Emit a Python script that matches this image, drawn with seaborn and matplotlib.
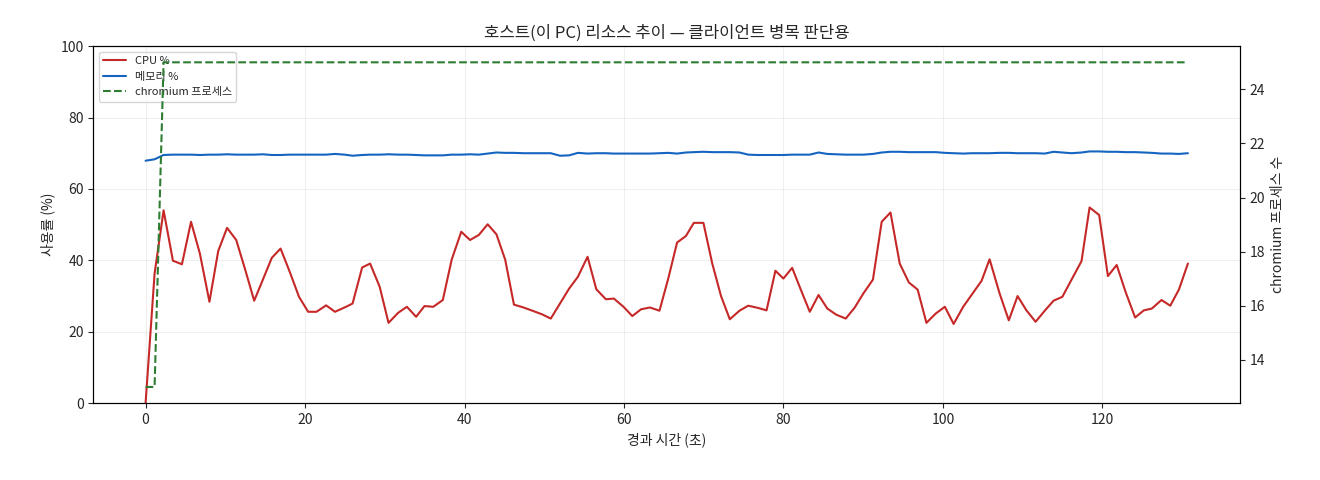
import matplotlib
matplotlib.use("Agg")
import matplotlib.pyplot as plt
import seaborn as sns
import pandas as pd

elapsed_s = [0.0, 1.13, 2.26, 3.43, 4.56, 5.70, 6.81, 8.01, 9.11, 10.22,
             11.37, 12.52, 13.62, 14.73, 15.83, 16.93, 18.13, 19.24, 20.39, 21.44,
             22.65, 23.75, 24.95, 25.96, 27.16, 28.16, 29.36, 30.47, 31.67, 32.77,
             33.93, 34.98, 36.08, 37.28, 38.39, 39.59, 40.69, 41.79, 42.90, 44.00,
             45.10, 46.20, 47.40, 48.51, 49.71, 50.82, 51.97, 53.12, 54.22, 55.43,
             56.53, 57.73, 58.73, 59.94, 61.04, 62.14, 63.25, 64.45, 65.55, 66.66,
             67.76, 68.76, 69.96, 71.07, 72.17, 73.27, 74.48, 75.58, 76.78, 77.88,
             78.99, 79.99, 81.09, 82.19, 83.30, 84.40, 85.50, 86.61, 87.81, 88.91,
             90.01, 91.22, 92.32, 93.42, 94.58, 95.73, 96.83, 97.93, 99.09, 100.24,
             101.34, 102.54, 103.65, 104.85, 105.85, 107.11, 108.26, 109.36, 110.47, 111.62,
             112.77, 113.87, 114.98, 116.13, 117.38, 118.39, 119.59, 120.69, 121.79, 122.90,
             124.10, 125.20, 126.20, 127.41, 128.51, 129.61, 130.72]

cpu_pct = [0.0, 36.3, 54.0, 39.9, 38.9, 50.8, 41.9, 28.4, 42.6, 49.1,
           45.7, 37.2, 28.7, 34.7, 40.7, 43.3, 36.5, 29.8, 25.6, 25.6,
           27.4, 25.6, 26.8, 27.9, 38.0, 39.1, 32.6, 22.5, 25.3, 27.0,
           24.2, 27.2, 27.0, 28.9, 40.2, 48.0, 45.7, 47.1, 50.1, 47.3,
           40.2, 27.6, 26.8, 25.9, 24.9, 23.7, 27.9, 32.1, 35.4, 41.0,
           31.9, 29.1, 29.3, 27.0, 24.4, 26.3, 26.8, 25.9, 34.9, 45.0,
           46.8, 50.5, 50.5, 39.1, 30.0, 23.5, 25.9, 27.3, 26.7, 26.0,
           37.1, 34.9, 37.9, 31.7, 25.6, 30.3, 26.5, 24.8, 23.7, 26.7,
           30.7, 34.6, 50.8, 53.4, 39.1, 33.8, 31.8, 22.5, 25.1, 27.0,
           22.2, 27.0, 30.5, 34.3, 40.3, 30.7, 23.2, 30.0, 26.0, 22.8,
           25.9, 28.7, 29.8, 34.6, 39.8, 54.8, 52.7, 35.6, 38.7, 31.2,
           24.0, 26.0, 26.5, 28.9, 27.3, 31.9, 39.1]

mem_pct = [67.9, 68.3, 69.5, 69.6, 69.6, 69.6, 69.5, 69.6, 69.6, 69.7,
           69.6, 69.6, 69.6, 69.7, 69.5, 69.5, 69.6, 69.6, 69.6, 69.6,
           69.6, 69.8, 69.6, 69.3, 69.5, 69.6, 69.6, 69.7, 69.6, 69.6,
           69.5, 69.4, 69.4, 69.4, 69.6, 69.6, 69.7, 69.6, 69.9, 70.2,
           70.1, 70.1, 70.0, 70.0, 70.0, 70.0, 69.3, 69.4, 70.1, 69.9,
           70.0, 70.0, 69.9, 69.9, 69.9, 69.9, 69.9, 70.0, 70.1, 69.9,
           70.2, 70.3, 70.4, 70.3, 70.3, 70.3, 70.2, 69.6, 69.5, 69.5,
           69.5, 69.5, 69.6, 69.6, 69.6, 70.2, 69.8, 69.7, 69.6, 69.6,
           69.6, 69.8, 70.2, 70.4, 70.4, 70.3, 70.3, 70.3, 70.3, 70.1,
           70.0, 69.9, 70.0, 70.0, 70.0, 70.1, 70.1, 70.0, 70.0, 70.0,
           69.9, 70.4, 70.2, 70.0, 70.2, 70.5, 70.5, 70.4, 70.4, 70.3,
           70.3, 70.2, 70.1, 69.9, 69.9, 69.8, 70.0]

chromium_procs = [13, 13] + [25] * (len(elapsed_s) - 2)

df = pd.DataFrame({"t": elapsed_s, "cpu": cpu_pct, "mem": mem_pct,
                   "proc": chromium_procs})

sns.set_style("ticks")
plt.rcParams["font.family"] = ["Noto Sans CJK KR", "DejaVu Sans"]
plt.rcParams["axes.unicode_minus"] = False

fig = plt.figure(figsize=(13.2, 4.8), dpi=100)
ax1 = fig.add_axes([0.0708, 0.160, 0.8686, 0.744])
ax2 = ax1.twinx()

sns.lineplot(data=df, x="t", y="cpu", ax=ax1, color="#c62828", lw=1.5,
             label="CPU %", legend=False)
sns.lineplot(data=df, x="t", y="mem", ax=ax1, color="#1565c0", lw=1.5,
             label="메모리 %", legend=False)
sns.lineplot(data=df, x="t", y="proc", ax=ax2, color="#2e7d32", lw=1.5,
             linestyle="--", label="chromium 프로세스", legend=False)

ax1.set_ylim(0, 100)
ax1.set_xlabel("경과 시간 (초)", fontsize=10)
ax1.set_ylabel("사용률 (%)", fontsize=10)
ax2.set_ylabel("chromium 프로세스 수", fontsize=10)
ax2.set_xlabel("")
ax1.set_title("호스트(이 PC) 리소스 추이 — 클라이언트 병목 판단용", fontsize=12)
ax1.grid(True, alpha=0.3)
for ax in (ax1, ax2):
    ax.tick_params(labelsize=10)
    for s in ax.spines.values():
        s.set_visible(True)
        s.set_color("black")

h1, l1 = ax1.get_legend_handles_labels()
h2, l2 = ax2.get_legend_handles_labels()
ax1.legend(h1 + h2, l1 + l2, loc="upper left", fontsize=8)

fig.savefig("out.png", dpi=100)
